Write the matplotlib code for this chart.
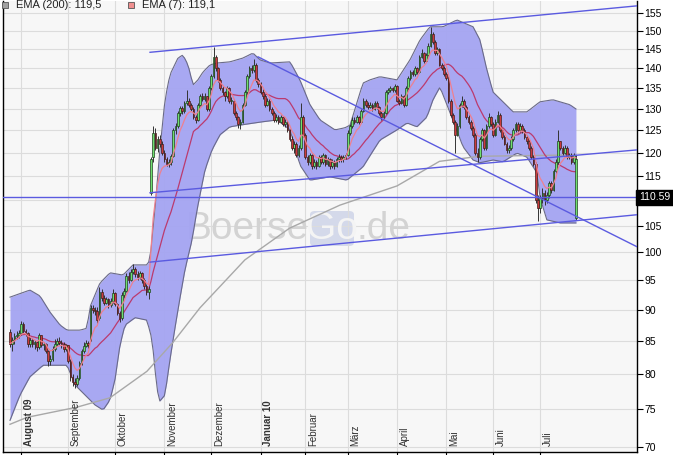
import numpy as np
import pandas as pd
import matplotlib
matplotlib.use('Agg')
import matplotlib.pyplot as plt
from matplotlib.patches import Rectangle, FancyBboxPatch
from matplotlib.ticker import NullLocator, FixedLocator, FuncFormatter
import matplotlib.transforms as mtransforms

plt.rcParams['font.family'] = ['Liberation Sans', 'DejaVu Sans']

# ---------------- data (daily candles, trading-day index 0..253) ----------------
opens = [86.4, 84.6, 85.2, 85.8, 86.0, 86.3, 87.6, 86.5, 86.2, 84.5,
         85.2, 84.5, 84.8, 84.0, 85.9, 84.3, 84.5, 83.5, 82.0, 82.3,
         83.8, 84.6, 85.0, 84.7, 84.5, 83.8, 84.3, 82.0, 79.5, 78.8,
         78.6, 79.4, 81.6, 83.5, 84.2, 84.7, 85.3, 90.3, 90.0, 89.8,
         88.6, 93.0, 92.0, 91.2, 91.8, 90.8, 91.5, 92.8, 91.0, 89.5,
         88.6, 92.5, 93.2, 95.8, 95.0, 96.5, 97.0, 96.0, 95.5, 96.2,
         95.0, 94.0, 93.0, 111.5, 119.0, 124.5, 121.0, 123.0, 122.0, 120.0,
         118.5, 117.5, 118.0, 119.2, 125.0, 126.0, 129.0, 130.2, 129.5, 131.5,
         132.0, 131.0, 130.0, 128.0, 127.5, 131.0, 133.0, 132.5, 133.0, 130.0,
         135.0, 138.0, 143.0, 140.0, 137.0, 135.0, 134.0, 133.0, 135.0, 132.0,
         132.0, 129.0, 128.0, 126.5, 127.0, 131.0, 134.0, 138.0, 140.0, 139.5,
         141.0, 137.0, 136.0, 134.0, 133.0, 131.0, 132.0, 130.0, 129.0, 127.5,
         128.0, 127.0, 128.0, 126.5, 127.0, 125.0, 123.0, 121.0, 122.0, 119.5,
         121.0, 128.0, 124.0, 119.0, 118.0, 119.5, 117.0, 118.0, 117.0, 119.0,
         118.0, 119.5, 117.5, 118.5, 117.0, 118.0, 117.0, 118.5, 119.0, 118.5,
         119.0, 119.5, 124.5, 126.0, 127.5, 127.0, 128.0, 127.0, 129.5, 132.0,
         131.0, 130.5, 131.0, 130.0, 131.5, 130.5, 129.0, 128.0, 129.0, 134.0,
         134.5, 135.0, 134.5, 135.5, 132.0, 131.5, 133.0, 131.0, 135.0, 137.5,
         139.0, 138.5, 140.0, 139.0, 143.0, 144.0, 142.0, 143.5, 146.0, 149.0,
         147.0, 144.0, 145.0, 141.0, 140.0, 138.5, 137.5, 132.0, 128.5, 127.0,
         124.0, 126.0, 131.0, 132.0, 130.5, 128.0, 127.0, 125.5, 124.0, 120.0,
         119.0, 123.0, 125.0, 121.0, 126.0, 128.0, 126.5, 124.0, 127.0, 128.5,
         125.0, 123.5, 122.0, 120.5, 121.0, 123.0, 125.0, 126.5, 125.0, 126.0,
         125.0, 123.5, 122.5, 121.0, 119.0, 117.5, 110.0, 108.5, 110.5, 111.5,
         110.0, 111.0, 113.5, 112.0, 116.0, 118.0, 122.5, 121.0, 120.0, 121.0,
         119.0, 119.5, 118.0, 106.5]
highs = [86.9, 85.6, 86.2, 86.5, 86.8, 88.2, 88.0, 86.9, 86.4, 85.6,
         85.5, 85.2, 85.0, 86.3, 86.0, 84.9, 84.7, 83.6, 82.8, 84.2,
         85.3, 85.4, 85.6, 85.1, 84.8, 84.6, 84.4, 82.2, 80.0, 79.4,
         79.8, 81.9, 83.8, 84.8, 85.2, 85.0, 90.8, 90.8, 90.5, 90.4,
         93.8, 93.4, 92.4, 92.2, 92.0, 91.9, 93.4, 93.0, 91.2, 89.8,
         92.9, 93.6, 96.2, 96.4, 96.9, 97.8, 97.4, 96.6, 96.6, 96.5,
         95.4, 94.4, 94.0, 119.0, 126.0, 125.5, 123.8, 124.0, 122.5, 120.6,
         119.0, 118.6, 119.6, 125.6, 126.8, 129.6, 130.8, 130.6, 132.0, 134.5,
         132.6, 131.5, 130.4, 128.6, 131.4, 133.6, 133.8, 133.8, 133.2, 135.5,
         138.6, 145.5, 143.6, 140.4, 137.6, 135.6, 134.4, 135.6, 135.4, 132.8,
         132.3, 129.4, 128.3, 127.6, 131.5, 134.6, 138.6, 140.6, 140.8, 142.5,
         141.4, 137.6, 136.5, 134.8, 133.5, 132.6, 132.4, 130.4, 129.4, 128.8,
         128.5, 128.6, 128.4, 127.6, 127.4, 125.4, 123.6, 122.6, 122.4, 121.6,
         131.5, 128.5, 124.4, 119.5, 120.0, 119.8, 118.6, 118.3, 119.5, 119.4,
         120.0, 119.8, 119.0, 118.8, 118.6, 118.4, 119.0, 119.6, 119.4, 119.5,
         120.0, 125.0, 126.5, 128.0, 128.0, 128.6, 128.4, 130.0, 132.6, 132.5,
         131.6, 131.6, 131.4, 132.0, 131.8, 130.8, 129.4, 129.6, 134.6, 135.0,
         135.6, 135.4, 136.0, 135.8, 132.5, 133.5, 133.4, 135.5, 138.0, 139.6,
         139.5, 140.6, 140.4, 143.6, 145.0, 144.4, 144.0, 146.6, 151.0, 149.6,
         147.4, 145.6, 145.4, 141.5, 140.5, 139.0, 138.0, 132.4, 129.0, 127.4,
         126.6, 131.5, 133.0, 132.4, 131.0, 128.5, 127.5, 126.0, 124.4, 121.0,
         123.5, 125.6, 125.4, 126.5, 129.0, 128.4, 127.0, 127.6, 129.4, 129.0,
         125.5, 124.0, 122.4, 121.6, 123.6, 125.6, 127.0, 127.0, 126.8, 126.4,
         125.5, 124.0, 123.0, 121.5, 119.5, 118.0, 111.0, 111.0, 112.5, 112.0,
         111.6, 114.0, 114.0, 116.5, 118.6, 125.0, 122.5, 121.5, 121.6, 121.4,
         120.0, 120.0, 120.0, 119.5]
lows = [84.0, 83.5, 84.6, 85.3, 85.5, 86.0, 86.2, 85.8, 84.0, 84.0,
        84.1, 83.8, 83.4, 83.8, 84.0, 83.6, 83.2, 81.2, 81.3, 82.0,
        83.5, 84.2, 84.3, 83.9, 83.3, 83.5, 81.6, 79.0, 78.2, 78.0,
        78.3, 79.2, 81.3, 83.2, 84.0, 83.9, 85.0, 89.4, 89.2, 87.8,
        88.4, 91.5, 90.8, 90.9, 90.3, 90.5, 91.2, 90.7, 89.2, 88.0,
        88.4, 92.0, 93.0, 94.6, 94.8, 96.0, 95.6, 95.0, 95.2, 94.6,
        93.5, 92.5, 91.8, 111.0, 118.0, 120.5, 120.2, 121.3, 119.4, 118.0,
        117.0, 116.8, 117.4, 119.0, 124.2, 125.6, 128.4, 128.8, 129.0, 131.0,
        130.4, 129.5, 127.6, 126.8, 127.2, 130.6, 132.0, 132.0, 129.4, 129.6,
        134.6, 137.6, 139.4, 136.5, 134.6, 133.4, 132.0, 132.6, 131.5, 131.2,
        128.6, 127.5, 125.6, 125.2, 126.8, 130.6, 133.6, 137.6, 138.8, 139.0,
        136.6, 135.4, 133.5, 132.4, 130.4, 130.6, 129.6, 128.5, 127.0, 127.0,
        126.5, 126.6, 126.0, 125.8, 124.6, 122.5, 120.5, 120.0, 119.0, 119.0,
        120.6, 123.5, 118.5, 117.4, 117.6, 116.4, 116.6, 116.5, 116.8, 117.5,
        117.6, 117.0, 117.2, 116.5, 116.6, 116.5, 116.8, 118.0, 118.0, 118.0,
        118.5, 119.2, 124.0, 125.6, 126.5, 126.6, 126.5, 126.8, 129.2, 130.5,
        130.0, 130.2, 129.6, 129.8, 130.0, 128.6, 127.5, 127.8, 128.8, 133.5,
        134.0, 134.0, 134.2, 131.6, 131.0, 131.2, 130.5, 130.8, 134.6, 137.0,
        138.0, 138.2, 138.5, 138.8, 142.6, 141.5, 141.6, 143.2, 145.6, 146.5,
        143.5, 143.6, 140.6, 139.5, 138.0, 137.0, 131.5, 128.0, 126.5, 120.0,
        123.6, 125.6, 130.5, 130.0, 127.6, 126.5, 125.0, 123.5, 119.5, 118.0,
        118.6, 122.6, 120.5, 120.6, 125.6, 126.0, 123.5, 123.6, 126.6, 124.6,
        123.0, 121.6, 120.0, 120.0, 120.6, 122.6, 124.6, 124.5, 124.6, 124.5,
        123.0, 122.0, 120.5, 118.5, 117.0, 109.5, 105.8, 107.5, 109.5, 109.0,
        109.4, 110.5, 111.5, 111.8, 115.6, 117.6, 120.5, 119.5, 119.6, 118.5,
        118.6, 117.5, 117.6, 106.0]
closes = [84.6, 85.2, 85.8, 86.0, 86.3, 87.6, 86.5, 86.2, 84.5, 85.2,
          84.5, 84.8, 84.0, 85.9, 84.3, 84.5, 83.5, 82.0, 82.3, 83.8,
          84.6, 85.0, 84.7, 84.5, 83.8, 84.3, 82.0, 79.5, 78.8, 78.6,
          79.4, 81.6, 83.5, 84.2, 84.7, 84.3, 90.3, 90.0, 89.8, 88.3,
          93.0, 92.0, 91.2, 91.8, 90.8, 91.5, 92.8, 91.0, 89.5, 88.5,
          92.5, 93.2, 95.8, 95.0, 96.5, 97.0, 96.0, 95.5, 96.2, 95.0,
          94.0, 93.0, 93.5, 118.5, 124.5, 121.0, 123.0, 122.0, 120.0, 118.5,
          117.5, 118.0, 119.2, 125.0, 126.0, 129.0, 130.2, 129.5, 131.5, 132.0,
          131.0, 130.0, 128.0, 127.5, 131.0, 133.0, 132.5, 133.0, 130.0, 135.0,
          138.0, 143.0, 140.0, 137.0, 135.0, 134.0, 133.0, 135.0, 132.0, 132.2,
          129.0, 128.0, 126.5, 127.0, 131.0, 134.0, 138.0, 140.0, 139.5, 141.0,
          137.0, 136.0, 134.0, 133.0, 131.0, 132.0, 130.0, 129.0, 127.5, 128.0,
          127.0, 128.0, 126.5, 127.0, 125.0, 123.0, 121.0, 122.0, 119.5, 121.0,
          128.0, 124.0, 119.0, 118.0, 119.5, 117.0, 118.0, 117.0, 119.0, 118.0,
          119.5, 117.5, 118.5, 117.0, 118.0, 117.0, 118.5, 119.0, 118.5, 119.0,
          119.5, 124.5, 126.0, 127.5, 127.0, 128.0, 127.0, 129.5, 132.0, 131.0,
          130.5, 131.0, 130.0, 131.5, 130.5, 129.0, 128.0, 129.0, 134.0, 134.5,
          135.0, 134.5, 135.5, 132.0, 131.5, 133.0, 131.0, 135.0, 137.5, 139.0,
          138.5, 140.0, 139.0, 143.0, 144.0, 142.0, 143.5, 146.0, 149.0, 147.0,
          144.0, 145.0, 141.0, 140.0, 138.5, 137.5, 132.0, 128.5, 127.0, 124.0,
          126.0, 131.0, 132.0, 130.5, 128.0, 127.0, 125.5, 124.0, 120.0, 119.0,
          123.0, 125.0, 121.0, 126.0, 128.0, 126.5, 124.0, 127.0, 128.5, 125.0,
          123.5, 122.0, 120.5, 121.0, 123.0, 125.0, 126.5, 125.0, 126.0, 125.0,
          123.5, 122.5, 121.0, 119.0, 117.5, 110.0, 108.5, 110.5, 111.5, 110.0,
          111.0, 113.5, 112.0, 116.0, 118.0, 122.5, 121.0, 120.0, 121.0, 119.0,
          119.5, 118.0, 119.5, 118.5]

# Bollinger band edges (trading-day index, price)
bb_upper_x = [0, 8.9, 13.4, 17.9, 22.4, 25.5, 31.3, 34.4, 35.8, 40.2, 44.7, 50.5, 55, 61.2,
              62.6, 64.8, 67, 69.3, 71.5, 75.1, 77.3, 79.6, 81.8, 84, 86.3, 89.4, 92.5, 98.3,
              104.2, 108.6, 111.8, 116.2, 125.2, 129.6, 134.1, 138.6, 145.3, 149.8, 152,
              155.1, 157.8, 160.9, 165.4, 173, 178.8, 183.3, 187.7, 193.6, 199.8, 207, 210.1,
              213.2, 215.9, 224.9, 231.1, 236.9, 242.7, 250.3, 253.5]
bb_upper_y = [92.1, 93.3, 92.3, 89.6, 87.5, 86.7, 86.7, 87.0, 90.5, 94.5, 96.3, 95.9, 97.7, 97.7,
              98.6, 108.0, 120.6, 132.2, 138.4, 142.7, 143.5, 140.9, 135.8, 137.1, 139.1, 140.9,
              141.4, 141.7, 142.7, 144.0, 142.2, 141.4, 141.7, 137.1, 131.0, 127.4, 125.1, 125.6,
              126.2, 131.4, 136.3, 137.1, 137.9, 137.1, 142.2, 147.5, 151.1, 151.1, 153.0, 151.1,
              147.5, 139.6, 134.1, 129.3, 129.3, 131.7, 132.2, 131.0, 129.8]
bb_lower_x = [0, 4.5, 8.9, 14.8, 25.5, 29.1, 33.5, 38, 41.6, 44.7, 46.9, 49.2, 51.4, 55.9, 61.2,
              63.5, 65.3, 66.6, 69.3, 71.5, 75.1, 78.2, 81.4, 83.6, 87.2, 90.3, 93.9, 98.3,
              102.8, 111.8, 119.4, 125.2, 129.6, 134.1, 143, 150.6, 157.8, 165.4, 173, 177.5,
              181.9, 186.4, 189.1, 192.2, 196.7, 202.5, 207, 210.1, 215.9, 220.4, 226.6, 231.1,
              235.6, 236.9, 240, 245.9, 253.5]
bb_lower_y = [73.5, 77.0, 79.6, 81.3, 81.3, 78.4, 77.0, 75.6, 74.9, 76.3, 79.1, 84.4, 87.5, 88.7,
              88.3, 85.2, 79.1, 76.0, 77.0, 82.1, 90.0, 96.8, 102.3, 108.0, 116.3, 120.6, 124.0,
              125.8, 126.2, 126.9, 127.4, 125.1, 117.3, 114.1, 114.8, 114.1, 116.9, 122.8, 125.1,
              126.7, 125.8, 128.1, 132.2, 135.3, 129.1, 121.3, 118.4, 117.8, 118.4, 118.0, 119.9,
              119.0, 115.6, 110.6, 106.1, 105.5, 105.5]

# EMA(200)
ema200_x = [0, 7.6, 30, 44.7, 61.2, 72.9, 84.9, 105, 125, 147.5, 173, 192, 210, 253]
ema200_y = [72.97, 73.9, 75.3, 76.6, 80.4, 84.8, 90.3, 98.6, 104.5, 109.0, 112.9, 118.1, 119.2, 119.5]

# trend lines: (x0, y0, x1, y1)
trend_lines = [(62.6, 144.2, 280.3, 157.0),
               (110.9, 143.0, 280.3, 101.0),
               (62.6, 111.5, 280.3, 120.6),
               (62.6, 98.2, 280.3, 107.1)]
last_price = 110.59

month_idx = [5, 26, 47, 69, 90, 112, 132, 151, 173, 195, 216, 237]
month_labels = ['August 09', 'September', 'Oktober', 'November', 'Dezember', 'Januar 10',
                'Februar', 'März', 'April', 'Mai', 'Juni', 'Juli']
bold_months = {'August 09', 'Januar 10'}
ytick_vals = [70, 75, 80, 85, 90, 95, 100, 105, 115, 120, 125, 130, 135, 140, 145, 150, 155]

legend_items = [('EMA (200): 119,5', '#a0a0a0'), ('EMA (7): 119,1', '#f09090')]

# ---------------- figure ----------------
W, H = 673, 455
fig = plt.figure(figsize=(W / 100, H / 100), dpi=100)
fig.patch.set_facecolor('white')
ax = fig.add_axes([3 / W, 3 / H, 634 / W, 451 / H])
ax.set_facecolor('#f7f7f7')
ax.set_yscale('log')
ax.set_xlim(-3.13, 280.3)
ax.set_ylim(69.36, 158.4)

O = np.array(opens); Hh = np.array(highs); L = np.array(lows); C = np.array(closes)
idx = np.arange(len(C))

# grid
ax.set_xticks(month_idx)
ax.xaxis.set_minor_locator(NullLocator())
ax.yaxis.set_major_locator(FixedLocator(ytick_vals))
ax.yaxis.set_minor_locator(NullLocator())
ax.yaxis.set_major_formatter(FuncFormatter(lambda v, p: f'{v:.0f}'))
ax.grid(True, which='major', color='#dcdcdc', lw=0.8, zorder=0)
ax.axhline(110, color='#dcdcdc', lw=0.8, zorder=0)
ax.set_axisbelow(True)

# watermark
def px(xp, yp):
    return ((xp - 3) / 634, (452 - yp) / 451)
bx0, by0 = px(310, 246)
bx1, by1 = px(354, 211)
ax.add_patch(FancyBboxPatch((bx0, by0), bx1 - bx0, by1 - by0, transform=ax.transAxes,
                            boxstyle='round,pad=0,rounding_size=0.008',
                            fc='#d4d9ea', ec='none', zorder=0.5))
ax.text(*px(309, 229), 'Boerse', transform=ax.transAxes, ha='right', va='center',
        fontsize=28, color='#d3d3d3', zorder=0.6)
ax.text(*px(332, 229), 'Go', transform=ax.transAxes, ha='center', va='center',
        fontsize=28, color='#f4f4f4', zorder=0.6)
ax.text(*px(356, 229), '.de', transform=ax.transAxes, ha='left', va='center',
        fontsize=28, color='#d3d3d3', zorder=0.6)

# Bollinger band
xs = np.arange(0, len(C))
up = np.interp(xs, bb_upper_x, bb_upper_y)
lo = np.interp(xs, bb_lower_x, bb_lower_y)
ax.fill_between(xs, lo, up, color='#a4a4f2', alpha=0.95, lw=0, zorder=1)
ax.plot(xs, up, color='#6a6a88', lw=0.8, zorder=1.2)
ax.plot(xs, lo, color='#6a6a88', lw=0.8, zorder=1.2)

# EMA200
ax.plot(ema200_x, ema200_y, color='#a8a8a8', lw=1.0, zorder=2)

# SMA20 (band middle) and EMA7
cs = pd.Series(C)
sma20 = cs.rolling(20, min_periods=1).mean()
ema7 = cs.ewm(span=7, adjust=False).mean()
ax.plot(idx, sma20, color='#bb3a6e', lw=0.9, zorder=2.5)

# candles
up_mask = C >= O
body_bot = np.minimum(O, C)
body_h = np.maximum(np.abs(C - O), 0.15)
ax.vlines(idx, L, Hh, color='#333333', lw=0.7, zorder=3)
ax.bar(idx[up_mask], body_h[up_mask], bottom=body_bot[up_mask], width=0.75,
       color='#6fe06f', edgecolor='#1f3f1f', lw=0.5, zorder=3.5)
ax.bar(idx[~up_mask], body_h[~up_mask], bottom=body_bot[~up_mask], width=0.75,
       color='#cc3b3b', edgecolor='#3f1f1f', lw=0.5, zorder=3.5)

ax.plot(idx, ema7, color='#ee8090', lw=0.9, zorder=4)

# trend lines and last price line
for x0, y0, x1, y1 in trend_lines:
    ax.plot([x0, x1], [y0, y1], color='#5a5ae0', lw=1.0, zorder=5)
ax.axhline(last_price, color='#5a5ae0', lw=1.0, zorder=5)

# axes styling
for s in ['left', 'bottom', 'right']:
    ax.spines[s].set_color('black')
    ax.spines[s].set_linewidth(1.0)
ax.spines['top'].set_visible(False)
ax.tick_params(axis='x', direction='out', length=3, width=0.8, labelbottom=False)
ax.tick_params(axis='y', which='major', direction='out', length=4, width=0.8,
               left=False, labelleft=False, right=True, labelright=True,
               labelsize=7.5, pad=1.5)

# month labels
for mi, lab in zip(month_idx, month_labels):
    ax.text(mi + 1.2, (452 - 446) / 451, lab, transform=mtransforms.blended_transform_factory(
        ax.transData, ax.transAxes), rotation=90, ha='left', va='bottom', fontsize=7,
        color='#333333', fontweight='bold' if lab in bold_months else 'normal', zorder=6)

# last price label
ax.text(1.0 + 2 / 634, last_price, f'{last_price:.2f}',
        transform=mtransforms.blended_transform_factory(ax.transAxes, ax.transData),
        ha='left', va='center', fontsize=7.5, color='white', zorder=7,
        bbox=dict(boxstyle='square,pad=0.25', fc='black', ec='black'), clip_on=False)

# legend
lx = [2, 128]
for (txt, col), x0 in zip(legend_items, lx):
    fig.add_artist(Rectangle((x0 / W, 1 - 8 / H), 6 / W, 6 / H, transform=fig.transFigure,
                             fc=col, ec='#555555', lw=0.6))
    fig.text((x0 + 14) / W, 1 - 5 / H, txt, ha='left', va='center', fontsize=8, color='#222222')

fig.savefig('out.png', dpi=100)
